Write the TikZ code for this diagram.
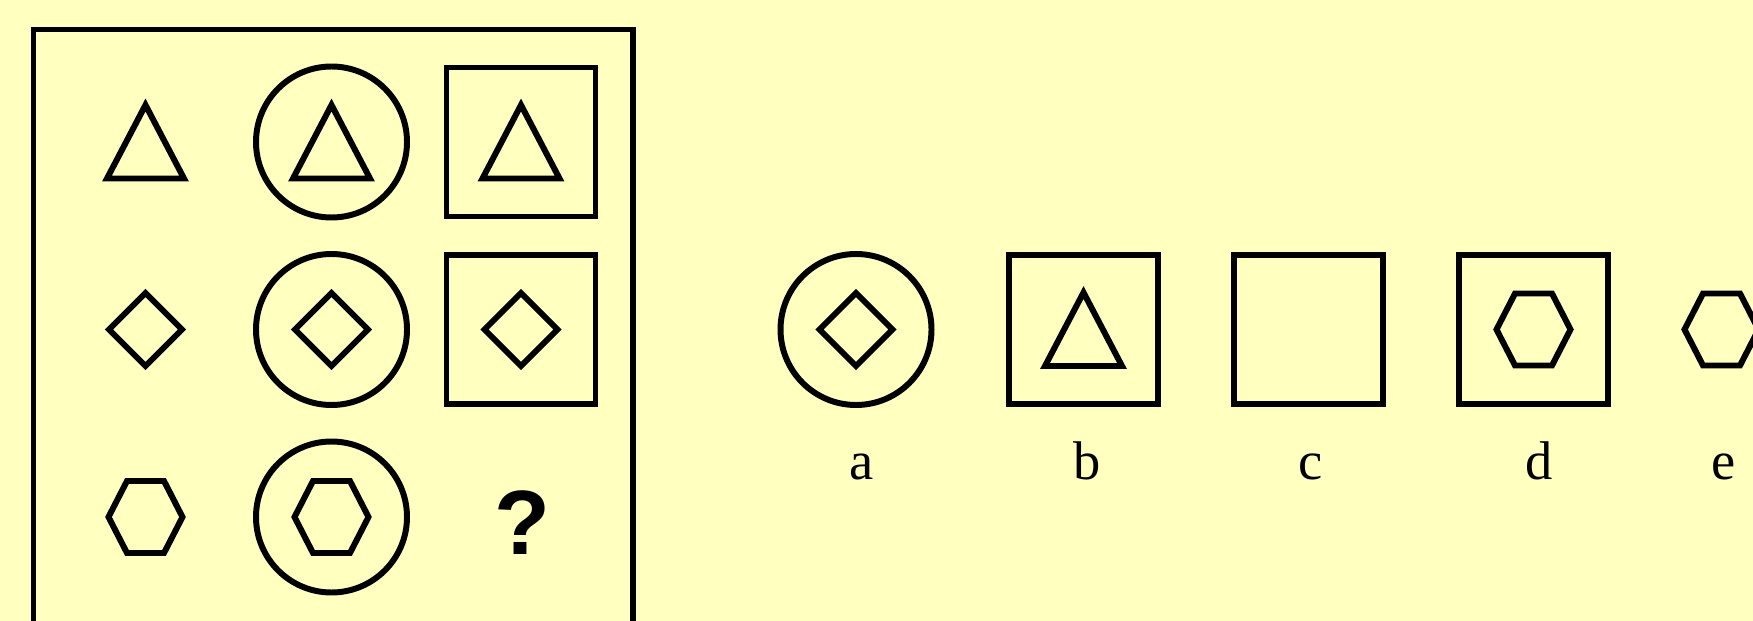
\documentclass[tikz,border=0pt]{standalone}
\usepackage{fontspec}
\setmainfont{Liberation Serif}
\newfontfamily\qmfont{Liberation Sans}
\usepackage{tikz}
\definecolor{sfondo}{HTML}{FFFFC0}
\tikzset{
    fig/.style={draw=black, line width=3.4pt, line join=miter},
    lettera/.style={font=\fontsize{31}{36}\selectfont, anchor=base},
    triangolo/.pic={\draw[fig] (-38.5,36.5) -- (38.5,36.5) -- (0,-37) -- cycle;},
    rombo/.pic={\draw[fig] (-36.5,0) -- (0,-36.5) -- (36.5,0) -- (0,36.5) -- cycle;},
    esagono/.pic={\draw[fig] (-37,0) -- (-18.5,-36) -- (18.5,-36) -- (37,0) -- (18.5,36) -- (-18.5,36) -- cycle;},
    cerchio/.pic={\draw[fig] (0,0) circle[radius=75.5];},
    quadrato/.pic={\draw[fig] (-74.5,-74.5) rectangle (74.5,74.5);}
}

\begin{document}
\begin{tikzpicture}[x=0.02cm, y=-0.02cm]
    % Sfondo
    \fill[sfondo] (0,0) rectangle (1753,621);
    \clip (0,0) rectangle (1753,621);

    % Cornice della matrice
    \draw[fig] (33.5,660) -- (33.5,29.5) -- (633,29.5) -- (633,660);

    % Prima colonna
    \pic at (145.5,142) {triangolo};
    \pic at (145.5,329.5) {rombo};
    \pic at (145.5,517) {esagono};

    % Seconda colonna: figure nel cerchio
    \pic at (331.5,142) {cerchio};
    \pic at (331.5,142) {triangolo};
    \pic at (331.5,329.5) {cerchio};
    \pic at (331.5,329.5) {rombo};
    \pic at (331.5,517) {cerchio};
    \pic at (331.5,517) {esagono};

    % Terza colonna: figure nel quadrato
    \pic at (521,142) {quadrato};
    \pic at (521,142) {triangolo};
    \pic at (521,329.5) {quadrato};
    \pic at (521,329.5) {rombo};
    \node[font=\qmfont\bfseries\fontsize{52}{60}\selectfont, anchor=base] (qm) at (522,554) {?};

    % Risposte
    \pic at (856,329.5) {cerchio};
    \pic at (856,329.5) {rombo};
    \pic at (1083.5,329.5) {quadrato};
    \pic at (1083.5,329.5) {triangolo};
    \pic at (1308.5,329.5) {quadrato};
    \pic at (1533.5,329.5) {quadrato};
    \pic at (1533.5,329.5) {esagono};
    \pic at (1721.5,329.5) {esagono};

    % Lettere
    \node[lettera] (la) at (862,479) {a};
    \node[lettera] (lb) at (1087,479) {b};
    \node[lettera] (lc) at (1311,479) {c};
    \node[lettera] (ld) at (1539,479) {d};
    \node[lettera] (le) at (1724,479) {e};
\end{tikzpicture}
\end{document}
